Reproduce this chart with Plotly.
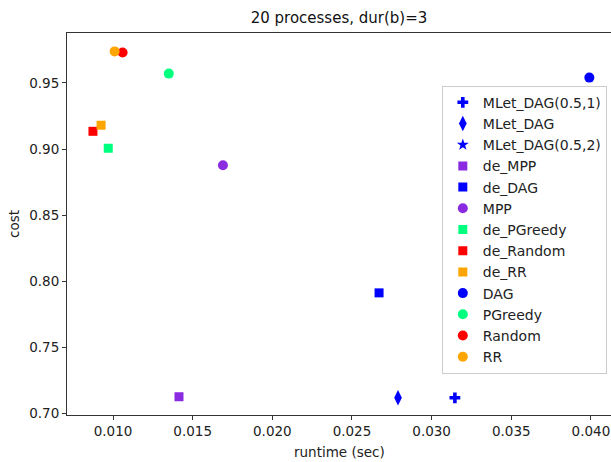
import plotly.graph_objects as go

names = ["MLet_DAG(0.5,1)", "MLet_DAG", "MLet_DAG(0.5,2)", "de_MPP", "de_DAG", "MPP",
         "de_PGreedy", "de_Random", "de_RR", "DAG", "PGreedy", "Random", "RR"]
runtime = [0.03146, 0.02789, None, 0.01414, 0.0267, 0.0169,
           0.0097, 0.00874, 0.00925, 0.0399, 0.0135, 0.0106, 0.0101]
cost = [0.712, 0.712, None, 0.7128, 0.7913, 0.8878,
        0.9006, 0.9134, 0.918, 0.954, 0.957, 0.973, 0.9738]
colors = ["#0000ff", "#0000ff", "#0000ff", "#8a2be2", "#0000ff", "#8a2be2",
          "#00ff7f", "#ff0000", "#ffa500", "#0000ff", "#00ff7f", "#ff0000", "#ffa500"]
symbols = ["cross", "diamond-tall", "star", "square", "square", "circle",
           "square", "square", "square", "circle", "circle", "circle", "circle"]
sizes = [9, 11, 9, 9, 9, 10, 9, 9, 9, 10, 10, 10, 10]

fig = go.Figure()
for n, x, y, c, s, sz in zip(names, runtime, cost, colors, symbols, sizes):
    fig.add_trace(go.Scatter(x=[x], y=[y], mode="markers", name=n,
                             marker=dict(color=c, symbol=s, size=sz, line=dict(width=0))))

fig.update_layout(
    width=611, height=462,
    margin=dict(l=67, r=0, t=33, b=47, autoexpand=False),
    paper_bgcolor="white", plot_bgcolor="white",
    font=dict(family="DejaVu Sans", size=13.5, color="#222"),
    title=dict(text="20 processes, dur(b)=3", x=(67 + 611) / 2 / 611, xanchor="center",
               y=1 - 18 / 462, yanchor="middle", font=dict(size=15, color="#111")),
    xaxis=dict(range=[0.00711, 0.04126], tickvals=[0.010, 0.015, 0.020, 0.025, 0.030, 0.035, 0.040],
               tickformat=".3f", showgrid=False, zeroline=False, showline=True, mirror=True,
               linecolor="#333", linewidth=1, ticks="outside", ticklen=4, tickcolor="#333",
               automargin=False),
    yaxis=dict(range=[0.699, 0.9877], tickvals=[0.70, 0.75, 0.80, 0.85, 0.90, 0.95],
               tickformat=".2f", showgrid=False, zeroline=False, showline=True,
               linecolor="#333", linewidth=1, ticks="outside", ticklen=4, tickcolor="#333",
               automargin=False),
    legend=dict(x=0.689, y=0.862, xanchor="left", yanchor="top", bgcolor="white",
                bordercolor="#ccc", borderwidth=1, font=dict(size=14),
                tracegroupgap=0),
    showlegend=True,
    annotations=[
        dict(text="runtime (sec)", xref="paper", yref="paper", x=0.5, y=-37 / 382,
             xanchor="center", yanchor="middle", showarrow=False, font=dict(size=13.5)),
        dict(text="cost", xref="paper", yref="paper", x=-53 / 544, y=0.5, textangle=-90,
             xanchor="center", yanchor="middle", showarrow=False, font=dict(size=13.5)),
    ],
)
fig.write_html("out.html", config={"displayModeBar": False},
               post_script="document.body.style.margin='0';document.body.style.padding='0';")
